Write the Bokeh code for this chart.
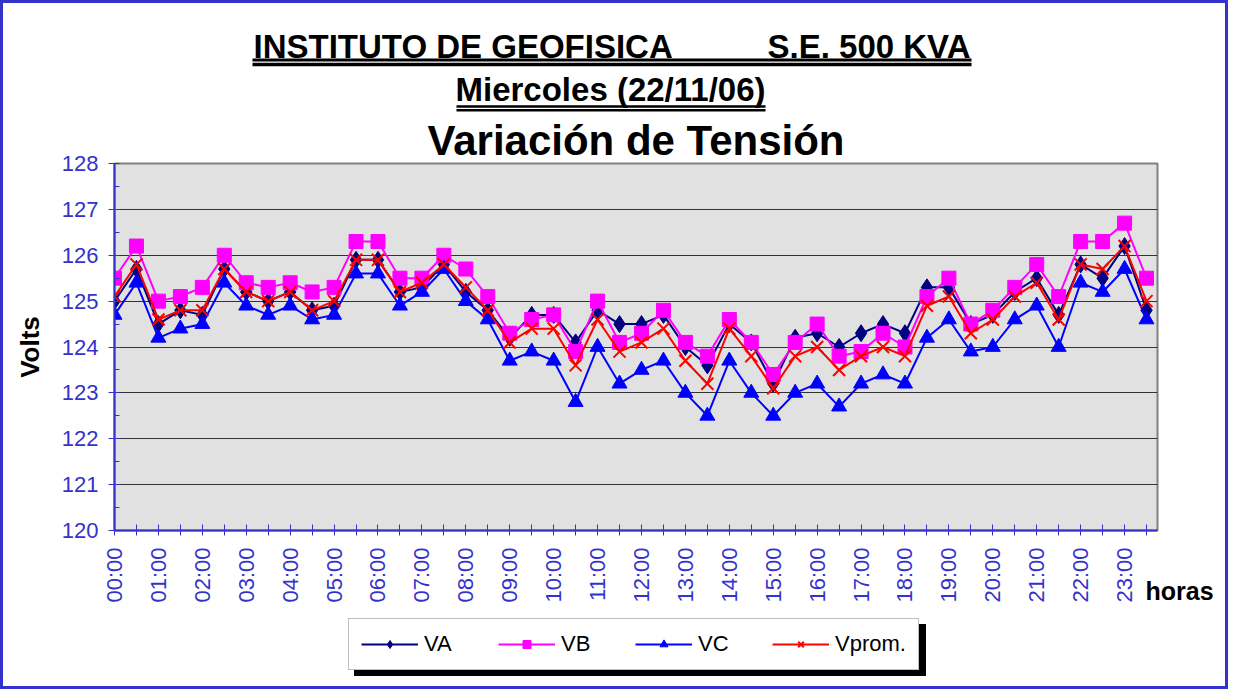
import math
from bokeh.plotting import figure
from bokeh.models import (Range1d, FixedTicker, SingleIntervalTicker, Legend,
                          LegendItem, Label, Title)
from bokeh.layouts import column
from bokeh.embed import file_html
from bokeh.resources import INLINE
from bokeh.core.properties import value

# ---------------- data ----------------
hours = ["%02d:%02d" % (h, m) for h in range(24) for m in (0, 30)]

VA = [125.0, 125.7, 124.5, 124.8, 124.7, 125.7, 125.2, 125.0, 125.2, 124.8, 124.9, 125.9,
      125.9, 125.2, 125.3, 125.8, 125.2, 124.8, 124.2, 124.7, 124.7, 124.1, 124.8, 124.5,
      124.5, 124.7, 124.0, 123.6, 124.5, 124.1, 123.2, 124.2, 124.3, 124.0, 124.3, 124.5,
      124.3, 125.3, 125.3, 124.5, 124.7, 125.2, 125.5, 124.7, 125.8, 125.5, 126.2, 124.8]
VB = [125.5, 126.2, 125.0, 125.1, 125.3, 126.0, 125.4, 125.3, 125.4, 125.2, 125.3, 126.3,
      126.3, 125.5, 125.5, 126.0, 125.7, 125.1, 124.3, 124.6, 124.7, 123.9, 125.0, 124.1,
      124.3, 124.8, 124.1, 123.8, 124.6, 124.1, 123.4, 124.1, 124.5, 123.8, 123.9, 124.3,
      124.0, 125.1, 125.5, 124.5, 124.8, 125.3, 125.8, 125.1, 126.3, 126.3, 126.7, 125.5]
VC = [124.7, 125.4, 124.2, 124.4, 124.5, 125.4, 124.9, 124.7, 124.9, 124.6, 124.7, 125.6,
      125.6, 124.9, 125.2, 125.7, 125.0, 124.6, 123.7, 123.9, 123.7, 122.8, 124.0, 123.2,
      123.5, 123.7, 123.0, 122.5, 123.7, 123.0, 122.5, 123.0, 123.2, 122.7, 123.2, 123.4,
      123.2, 124.2, 124.6, 123.9, 124.0, 124.6, 124.9, 124.0, 125.4, 125.2, 125.7, 124.6]
VPROM = [125.1, 125.8, 124.6, 124.8, 124.8, 125.7, 125.2, 125.0, 125.2, 124.8, 125.0, 125.9,
         125.9, 125.2, 125.4, 125.8, 125.3, 124.8, 124.1, 124.4, 124.4, 123.6, 124.6, 123.9,
         124.1, 124.4, 123.7, 123.2, 124.4, 123.8, 123.1, 123.8, 124.0, 123.5, 123.8, 124.0,
         123.8, 124.9, 125.1, 124.3, 124.6, 125.1, 125.4, 124.6, 125.8, 125.7, 126.2, 125.0]

TITLE1_LEFT = "INSTITUTO DE GEOFISICA"
TITLE1_RIGHT = "S.E. 500 KVA"
TITLE2 = "Miercoles (22/11/06)"
TITLE3 = "Variación de Tensión"
YLABEL = "Volts"
XLABEL = "horas"
NAMES = ["VA", "VB", "VC", "Vprom."]

FONT = "Liberation Sans"
AXIS_BLUE = "#3333cc"

# page geometry (observed origin of the layout on the page)
OX, OY = 4, 3
W = 1222
H_TOP = 109          # page y 3 .. 112
MB_TOP = 51          # main figure: title panel above the frame
H_MAIN = MB_TOP + 367 + 80   # page y 112 .. 610
H_BOT = 76           # page y 610 .. 686
FL, FR = 115, 1158   # frame left / right (page x)
MB_L = FL - OX
MB_R = OX + W - FR


def bare(fig):
    fig.grid.visible = False
    fig.background_fill_color = "white"
    fig.border_fill_color = "white"
    fig.outline_line_color = None
    try:
        fig.frame_align = False
    except Exception:
        pass


# ---------------- title figure (page pixel coordinates) ----------------
top = figure(width=W, height=H_TOP, x_range=Range1d(FL, FR),
             y_range=Range1d(OY + H_TOP, OY), output_backend="svg",
             toolbar_location=None, x_axis_location=None, y_axis_location=None,
             min_border_left=MB_L, min_border_right=MB_R, min_border_top=0,
             min_border_bottom=0)
bare(top)

common = dict(text_font=value(FONT), text_font_style="bold", text_color="black",
              text_baseline="middle")
top.text(x=[254], y=[45.5], text=[TITLE1_LEFT], text_align="left",
         text_font_size="33px", **common)
top.text(x=[971], y=[45.5], text=[TITLE1_RIGHT], text_align="right",
         text_font_size="33px", **common)
top.segment(x0=[253, 253], y0=[59.5, 64], x1=[972, 972], y1=[59.5, 64],
            line_color="black", line_width=[3, 3.5])
top.text(x=[611], y=[88.5], text=[TITLE2], text_align="center",
         text_font_size="33px", **common)
top.segment(x0=[457, 457], y0=[106, 109.8], x1=[766, 766], y1=[106, 109.8],
            line_color="black", line_width=[2.5, 2.5])

# ---------------- main chart ----------------
xs = list(range(len(hours)))
p = figure(width=W, height=H_MAIN, x_range=Range1d(0, 47.5), y_range=Range1d(120, 128),
           output_backend="svg", toolbar_location=None,
           min_border_left=MB_L, min_border_right=MB_R, min_border_top=MB_TOP,
           min_border_bottom=80)
try:
    p.frame_align = False
except Exception:
    pass
p.title.visible = False
p.add_layout(Title(text=TITLE3, align="center", offset=-4, standoff=0,
                   text_font=FONT, text_font_size="42px", text_font_style="bold",
                   text_color="black"), "above")
p.background_fill_color = "#e1e1e1"
p.border_fill_color = "white"
p.outline_line_color = "#808080"
p.outline_line_width = 2

# x axis
p.xaxis.ticker = FixedTicker(ticks=xs)
p.xaxis.major_label_overrides = {i: (hours[i] if i % 2 == 0 else "") for i in xs}
p.xaxis.major_label_orientation = math.pi / 2
p.xaxis.major_label_text_font = FONT
p.xaxis.major_label_text_font_size = "22px"
p.xaxis.major_label_text_color = AXIS_BLUE
p.xaxis.major_label_standoff = 12
p.xaxis.major_tick_in = 6
p.xaxis.major_tick_out = 5
p.xaxis.minor_tick_line_color = None
p.xaxis.axis_line_color = AXIS_BLUE
p.xaxis.axis_line_width = 2
p.xaxis.major_tick_line_color = AXIS_BLUE
p.xgrid.visible = False

# y axis
yt = SingleIntervalTicker(interval=1, num_minor_ticks=2)
p.yaxis.ticker = yt
p.ygrid.ticker = yt
p.yaxis.major_label_text_font = FONT
p.yaxis.major_label_text_font_size = "22px"
p.yaxis.major_label_text_color = AXIS_BLUE
p.yaxis.major_label_standoff = 10
p.yaxis.major_tick_out = 6
p.yaxis.major_tick_in = 0
p.yaxis.minor_tick_in = 5
p.yaxis.minor_tick_out = 0
p.yaxis.axis_line_color = AXIS_BLUE
p.yaxis.axis_line_width = 2
p.yaxis.major_tick_line_color = AXIS_BLUE
p.yaxis.minor_tick_line_color = AXIS_BLUE
p.yaxis.axis_label = YLABEL
p.yaxis.axis_label_text_font = FONT
p.yaxis.axis_label_text_font_size = "26px"
p.yaxis.axis_label_text_font_style = "bold"
p.yaxis.axis_label_text_color = "black"
p.yaxis.axis_label_standoff = 14
p.ygrid.grid_line_color = "#333333"
p.ygrid.grid_line_width = 1

# series
styles = [
    ("#000080", "diamond", 17),
    ("#ff00ff", "square", 14),
    ("#0000ff", "triangle", 15),
    ("#ff0000", "x", 17),
]
for vals, (col, mk, sz) in zip([VA, VB, VC, VPROM], styles):
    p.line(xs, vals, line_color=col, line_width=2)
    if mk == "x":
        p.scatter(xs, vals, marker=mk, size=sz, line_color=col, line_width=2)
    else:
        p.scatter(xs, vals, marker=mk, size=sz, fill_color=col, line_color=col)

# "horas" label placed in the right side panel (not clipped to the frame)
p.add_layout(Label(x=-12, y=-74, x_units="screen", y_units="screen", text=XLABEL,
                   text_font=FONT, text_font_size="25px", text_font_style="bold",
                   text_color="black"), "right")

# ---------------- legend figure ----------------
bot = figure(width=W, height=H_BOT, x_range=Range1d(0, 1), y_range=Range1d(0, 1),
             output_backend="svg", toolbar_location=None, x_axis_location=None,
             y_axis_location=None, min_border_left=MB_L, min_border_right=MB_R,
             min_border_top=0, min_border_bottom=0)
bare(bot)

OUT = [-10, -9]  # off-range sample so the legend glyph styles are resolved
items = []
for name, (col, mk, sz) in zip(NAMES, styles):
    lr = bot.line(OUT, OUT, line_color=col, line_width=2)
    if mk == "x":
        sr = bot.scatter(OUT, OUT, marker=mk, size=sz, line_color=col, line_width=2)
    else:
        sr = bot.scatter(OUT, OUT, marker=mk, size=sz, fill_color=col, line_color=col)
    items.append(LegendItem(label=name, renderers=[lr, sr]))

LX, LY = 349 - FL, 16

# drop shadow: a single blank item box of the same size, offset down/right
dummy = bot.line(OUT, OUT, line_alpha=0)
shadow = Legend(items=[LegendItem(label=" ", renderers=[dummy])],
                location=(LX + 6, LY - 6), orientation="horizontal",
                glyph_width=539, glyph_height=26, label_standoff=6, padding=12,
                label_width=1, label_text_font=FONT, label_text_font_size="22px",
                label_text_alpha=0, background_fill_color="black",
                background_fill_alpha=1, border_line_color="black")
legend = Legend(items=items, location=(LX, LY), orientation="horizontal",
                glyph_width=57, glyph_height=20, label_standoff=6, spacing=40,
                padding=12, label_width=34, label_text_font=FONT,
                label_text_font_size="22px", background_fill_color="white",
                background_fill_alpha=1, border_line_color="#808080",
                border_line_width=1, label_text_color="black")
bot.add_layout(shadow)
bot.add_layout(legend)

layout = column(top, p, bot, styles={"border": "3px solid #3333cc"})

open("out.html", "w").write(file_html(layout, INLINE))
